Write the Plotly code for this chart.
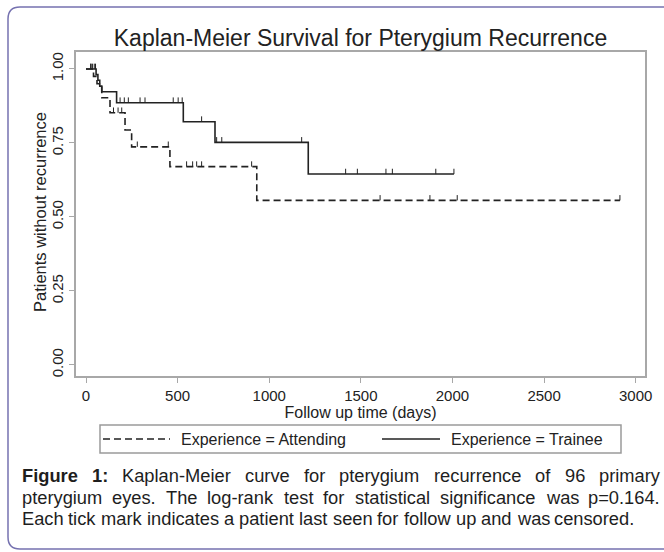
import numpy as np
import plotly.graph_objects as go

# ---------------- data ----------------
trainee_event_days = [55, 65, 75, 86, 167, 531, 704, 1213]
trainee_event_surv = [0.981, 0.962, 0.942, 0.923, 0.886, 0.822, 0.752, 0.645]
trainee_end_day = 2008
trainee_censor_days = [25, 35, 45, 52, 186, 209, 231, 295, 322, 476, 503, 525,
                       631, 713, 741, 1177, 1417, 1481, 1637, 1672, 1909, 2008]

attending_event_days = [41, 60, 86, 131, 213, 249, 458, 932]
attending_event_surv = [0.975, 0.950, 0.903, 0.852, 0.794, 0.737, 0.670, 0.556]
attending_end_day = 2914
attending_censor_days = [28, 150, 175, 195, 280, 449, 549, 582, 604, 631, 904,
                         1605, 1877, 2026, 2914]

x_ticks = [0, 500, 1000, 1500, 2000, 2500, 3000]
y_ticks = [0.0, 0.25, 0.5, 0.75, 1.0]
y_ticklabels = ["0.00", "0.25", "0.50", "0.75", "1.00"]

title_text = "Kaplan-Meier Survival for Pterygium Recurrence"
x_title = "Follow up time (days)"
y_title = "Patients without recurrence"
name_att = "Experience = Attending"
name_tra = "Experience = Trainee"

caption_lines = [
    ["<b>Figure</b>", "<b>1:</b>", "Kaplan-Meier", "curve", "for", "pterygium",
     "recurrence", "of", "96", "primary"],
    ["pterygium", "eyes.", "The", "log-rank", "test", "for", "statistical",
     "significance", "was", "p=0.164."],
    ["Each", "tick", "mark", "indicates", "a", "patient", "last", "seen", "for",
     "follow", "up", "and", "was", "censored."],
]

# ---------------- layout geometry ----------------
W, H = 664, 552
ML, MR, MT, MB = 76, 19, 52, 176
PW, PH = W - ML - MR, H - MT - MB
FONT = "Liberation Sans, Arial, Helvetica, sans-serif"
INK = "#222222"
FRAME = "#a8a8a8"


def px2x(px):
    return (px - ML) / PW


def py2y(py):
    return (H - MB - py) / PH


def step_value(days, ev_days, ev_surv):
    idx = np.searchsorted(np.asarray(ev_days), np.asarray(days), side="right")
    vals = np.concatenate([[1.0], np.asarray(ev_surv)])
    return vals[idx]


def km_xy(ev_days, ev_surv, end_day):
    xs = [0] + list(ev_days) + [end_day]
    ys = [1.0] + list(ev_surv) + [ev_surv[-1]]
    return xs, ys


DASH = "7px,4px"
LW = 1.6
fig = go.Figure()

for name, evd, evs, endd, cens, dash in [
    (name_att, attending_event_days, attending_event_surv, attending_end_day,
     attending_censor_days, DASH),
    (name_tra, trainee_event_days, trainee_event_surv, trainee_end_day,
     trainee_censor_days, "solid"),
]:
    xs, ys = km_xy(evd, evs, endd)
    fig.add_trace(go.Scatter(
        x=xs, y=ys, mode="lines", line=dict(shape="hv", color=INK, width=LW, dash=dash),
        name=name, hoverinfo="skip", showlegend=False))
    cy = step_value(cens, evd, evs)
    fig.add_trace(go.Scatter(
        x=cens, y=cy, mode="markers", showlegend=False,
        marker=dict(size=1, color="rgba(0,0,0,0)"),
        error_y=dict(type="constant", symmetric=False, value=0.018, valueminus=0,
                     width=0, thickness=1, color=INK),
        hoverinfo="skip"))

fig.update_xaxes(
    range=[-54.6, 3050.8], tickvals=x_ticks, ticks="outside", ticklen=5, tickwidth=1,
    tickcolor=FRAME, showline=True, linecolor=FRAME, linewidth=2, mirror=True,
    showgrid=False, zeroline=False, tickfont=dict(family=FONT, size=15, color=INK),
    title=dict(text=x_title, font=dict(family=FONT, size=16, color=INK), standoff=2))
fig.update_yaxes(
    range=[-0.0372, 1.0574], tickvals=y_ticks, ticktext=y_ticklabels, tickangle=-90,
    ticks="outside", ticklen=5, tickwidth=1, tickcolor=FRAME, showline=True,
    linecolor=FRAME, linewidth=2, mirror=True, showgrid=False, zeroline=False,
    tickfont=dict(family=FONT, size=15, color=INK))

fig.update_layout(
    width=W, height=H, margin=dict(l=ML, r=MR, t=MT, b=MB, autoexpand=False),
    paper_bgcolor="white", plot_bgcolor="white",
    title=dict(text=title_text, x=360.5 / W, xanchor="center",
               y=1 - 38 / H, yanchor="middle",
               font=dict(family=FONT, size=23, color=INK)),
    showlegend=False,
)

# y-axis title
fig.add_annotation(text=y_title, textangle=-90, x=px2x(40), y=py2y(212), xref="paper",
                   yref="paper", xanchor="center", yanchor="middle", showarrow=False,
                   font=dict(family=FONT, size=16.5, color=INK))

# ---------------- legend (boxed, Stata style) ----------------
LEG_L, LEG_R, LEG_T, LEG_B = 100, 621, 425, 453
LEG_MID = (LEG_T + LEG_B) / 2
fig.add_shape(type="rect", xref="paper", yref="paper", x0=px2x(LEG_L), x1=px2x(LEG_R),
              y0=py2y(LEG_B), y1=py2y(LEG_T), line=dict(color="#9a9a9a", width=1.5),
              fillcolor="white")
for (s0, s1, tx, dash, label) in [(103, 170, 180, DASH, name_att),
                                  (382, 440, 450, "solid", name_tra)]:
    fig.add_shape(type="line", xref="paper", yref="paper", x0=px2x(s0), x1=px2x(s1),
                  y0=py2y(LEG_MID), y1=py2y(LEG_MID),
                  line=dict(color=INK, width=LW, dash=dash))
    fig.add_annotation(text=label, x=px2x(tx), y=py2y(LEG_MID), xref="paper", yref="paper",
                       xanchor="left", yanchor="middle", showarrow=False, borderpad=0,
                       font=dict(family=FONT, size=16, color=INK))

# ---------------- outer rounded frame ----------------
x0, y0, x1, y1, r = 8, 7, 700, 549, 12
pts = [
    ("M", x0 + r, y0), ("L", x1, y0), ("L", x1, y1), ("L", x0 + r, y1),
    ("Q", x0, y1, x0, y1 - r), ("L", x0, y0 + r), ("Q", x0, y0, x0 + r, y0),
]
path = ""
for p in pts:
    cmd, coords = p[0], p[1:]
    pairs = []
    for i in range(0, len(coords), 2):
        pairs.append(f"{px2x(coords[i]):.5f},{py2y(coords[i + 1]):.5f}")
    path += cmd + " " + " ".join(pairs) + " "
path += "Z"
fig.add_shape(type="path", path=path, xref="paper", yref="paper",
              line=dict(color="#7672b0", width=1.5), layer="below")

# ---------------- justified caption ----------------
REG = {' ': 278, 'a': 556, 'b': 556, 'c': 500, 'd': 556, 'e': 556, 'f': 278, 'g': 556,
       'h': 556, 'i': 222, 'j': 222, 'k': 500, 'l': 222, 'm': 833, 'n': 556, 'o': 556,
       'p': 556, 'q': 556, 'r': 333, 's': 500, 't': 278, 'u': 556, 'v': 500, 'w': 722,
       'x': 500, 'y': 500, 'z': 500, 'E': 667, 'F': 611, 'K': 667, 'M': 833, 'T': 611,
       ':': 278, '.': 278, '-': 333, '=': 584}
for dgt in "0123456789":
    REG[dgt] = 556
BOLD = {'F': 611, 'i': 278, 'g': 611, 'u': 611, 'r': 389, 'e': 556, '1': 556, ':': 333}

CAP_SIZE = 18.3
CAP_LEFT, CAP_RIGHT = 20.5, 659
CAP_Y = [475, 497, 518]


def word_width(w):
    if w.startswith("<b>"):
        t = w[3:-4]
        return sum(BOLD.get(c, 556) for c in t) * CAP_SIZE / 1000
    return sum(REG.get(c, 556) for c in w) * CAP_SIZE / 1000


for li, words in enumerate(caption_lines):
    widths = [word_width(w) for w in words]
    if li < 2:
        gap = (CAP_RIGHT - CAP_LEFT - sum(widths)) / (len(words) - 1)
    else:
        gap = REG[' '] * CAP_SIZE / 1000
    xpos = CAP_LEFT
    for w, ww in zip(words, widths):
        fig.add_annotation(text=w, x=px2x(xpos), y=py2y(CAP_Y[li]), xref="paper", yref="paper",
                           xanchor="left", yanchor="middle", showarrow=False, borderpad=0,
                           font=dict(family=FONT, size=CAP_SIZE, color="#1e1e1e"))
        xpos += ww + gap

fig.write_html("out.html", config={"displayModeBar": False},
               post_script="document.body.style.margin='0';"
                           "document.body.style.overflow='hidden';")
